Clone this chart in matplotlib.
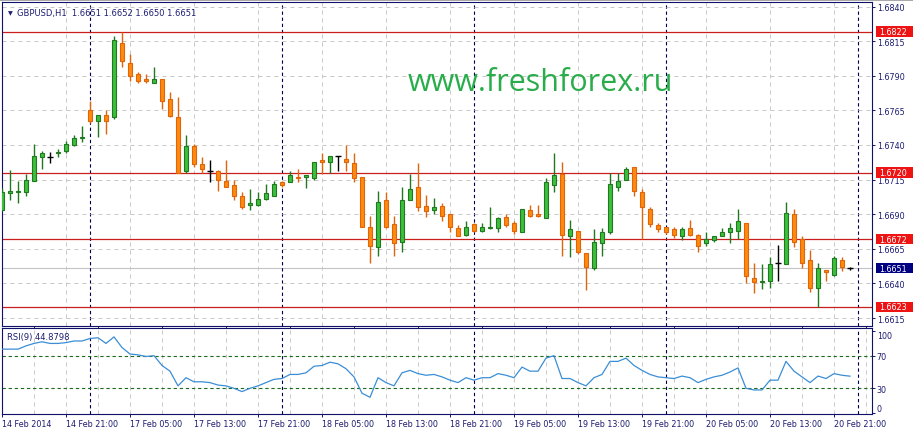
import matplotlib
matplotlib.use("Agg")
import matplotlib.pyplot as plt
import matplotlib.transforms as mtransforms
from matplotlib.patches import Rectangle
import numpy as np

W, H = 913, 435

# GBPUSD H1, 14 Feb 2014 13:00 .. 20 Feb 2014 23:00
opens = [1.6693, 1.6705, 1.6706, 1.6706, 1.6714, 1.6731, 1.6731, 1.6734, 1.6736, 1.6740,
         1.6745, 1.6765, 1.6757, 1.6762, 1.6760, 1.6814, 1.6799, 1.6791, 1.6788, 1.6785,
         1.6788, 1.6773, 1.6760, 1.6721, 1.6739, 1.6726, 1.6721, 1.6721, 1.6714, 1.6711,
         1.6703, 1.6697, 1.6697, 1.6701, 1.6703, 1.6713, 1.6713, 1.6717, 1.6717, 1.6716,
         1.6729, 1.6728, 1.6732, 1.6730, 1.6727, 1.6717, 1.6681, 1.6666, 1.6700, 1.6683,
         1.6670, 1.6700, 1.6710, 1.6696, 1.6693, 1.6696, 1.6690, 1.6680, 1.6675, 1.6683,
         1.6678, 1.6680, 1.6680, 1.6688, 1.6684, 1.6677, 1.6693, 1.6690, 1.6687, 1.6711,
         1.6719, 1.6674, 1.6678, 1.6662, 1.6651, 1.6669, 1.6677, 1.6710, 1.6715, 1.6724,
         1.6706, 1.6694, 1.6682, 1.6681, 1.6679, 1.6674, 1.6680, 1.6675, 1.6669, 1.6671,
         1.6674, 1.6677, 1.6678, 1.6684, 1.6644, 1.6641, 1.6642, 1.6655, 1.6654, 1.6690,
         1.6672, 1.6657, 1.6637, 1.6650, 1.6646, 1.6657, 1.6651]
highs = [1.6709, 1.6722, 1.6714, 1.6719, 1.6741, 1.6736, 1.6735, 1.6737, 1.6743, 1.6747,
         1.6754, 1.6772, 1.6762, 1.6765, 1.6819, 1.6822, 1.6806, 1.6793, 1.6791, 1.6796,
         1.6788, 1.6778, 1.6775, 1.6747, 1.6741, 1.6731, 1.6729, 1.6722, 1.6729, 1.6715,
         1.6706, 1.6708, 1.6706, 1.6712, 1.6714, 1.6714, 1.6721, 1.6723, 1.6718, 1.6728,
         1.6734, 1.6732, 1.6732, 1.6740, 1.6734, 1.6717, 1.6689, 1.6707, 1.6706, 1.6689,
         1.6710, 1.6719, 1.6727, 1.6704, 1.6702, 1.6698, 1.6690, 1.6682, 1.6685, 1.6684,
         1.6684, 1.6695, 1.6688, 1.6690, 1.6685, 1.6694, 1.6697, 1.6697, 1.6716, 1.6734,
         1.6728, 1.6686, 1.6678, 1.6662, 1.6679, 1.6680, 1.6720, 1.6720, 1.6724, 1.6724,
         1.6708, 1.6695, 1.6684, 1.6681, 1.6681, 1.6681, 1.6686, 1.6676, 1.6677, 1.6674,
         1.6680, 1.6684, 1.6694, 1.6684, 1.6655, 1.6654, 1.6659, 1.6668, 1.6699, 1.6694,
         1.6674, 1.6664, 1.6655, 1.6650, 1.6660, 1.6659, 1.6652]
lows = [1.6692, 1.6700, 1.6698, 1.6703, 1.6714, 1.6723, 1.6727, 1.6731, 1.6734, 1.6739,
        1.6742, 1.6756, 1.6746, 1.6748, 1.6759, 1.6796, 1.6786, 1.6785, 1.6785, 1.6785,
        1.6766, 1.6760, 1.6720, 1.6720, 1.6724, 1.6720, 1.6713, 1.6707, 1.6710, 1.6700,
        1.6694, 1.6693, 1.6696, 1.6700, 1.6703, 1.6710, 1.6713, 1.6713, 1.6709, 1.6715,
        1.6719, 1.6720, 1.6721, 1.6721, 1.6713, 1.6681, 1.6655, 1.6660, 1.6680, 1.6660,
        1.6663, 1.6700, 1.6692, 1.6688, 1.6690, 1.6685, 1.6677, 1.6674, 1.6674, 1.6677,
        1.6677, 1.6679, 1.6677, 1.6681, 1.6676, 1.6677, 1.6688, 1.6688, 1.6687, 1.6706,
        1.6660, 1.6659, 1.6661, 1.6635, 1.6650, 1.6660, 1.6676, 1.6707, 1.6715, 1.6703,
        1.6672, 1.6681, 1.6677, 1.6676, 1.6673, 1.6671, 1.6674, 1.6663, 1.6667, 1.6670,
        1.6674, 1.6669, 1.6672, 1.6640, 1.6633, 1.6636, 1.6637, 1.6642, 1.6654, 1.6666,
        1.6651, 1.6634, 1.6623, 1.6642, 1.6645, 1.6649, 1.6650]
closes = [1.6706, 1.6707, 1.6707, 1.6715, 1.6732, 1.6734, 1.6731, 1.6735, 1.6741, 1.6745,
          1.6746, 1.6757, 1.6762, 1.6757, 1.6816, 1.6801, 1.6790, 1.6786, 1.6786, 1.6788,
          1.6772, 1.6761, 1.6720, 1.6739, 1.6726, 1.6723, 1.6721, 1.6715, 1.6710, 1.6703,
          1.6695, 1.6698, 1.6701, 1.6705, 1.6712, 1.6711, 1.6718, 1.6716, 1.6718, 1.6728,
          1.6728, 1.6732, 1.6732, 1.6728, 1.6716, 1.6681, 1.6667, 1.6699, 1.6681, 1.6669,
          1.6700, 1.6708, 1.6695, 1.6692, 1.6695, 1.6689, 1.6681, 1.6674, 1.6681, 1.6678,
          1.6681, 1.6681, 1.6687, 1.6682, 1.6678, 1.6694, 1.6689, 1.6689, 1.6713, 1.6718,
          1.6675, 1.6679, 1.6663, 1.6652, 1.6670, 1.6677, 1.6712, 1.6714, 1.6723, 1.6707,
          1.6695, 1.6683, 1.6679, 1.6677, 1.6675, 1.6679, 1.6675, 1.6667, 1.6672, 1.6674,
          1.6677, 1.6680, 1.6685, 1.6645, 1.6641, 1.6642, 1.6654, 1.6655, 1.6691, 1.6670,
          1.6655, 1.6637, 1.6651, 1.6648, 1.6658, 1.6652, 1.6651]
rsi = [78, 78, 78, 82, 85, 87, 85, 85, 86, 88,
       88, 91, 92, 85, 93, 80, 72, 71, 69, 70,
       58, 51, 33, 43, 38, 38, 37, 34, 33, 30,
       26, 30, 33, 37, 41, 42, 47, 47, 49, 57,
       58, 62, 60, 54, 44, 24, 19, 43, 37, 33,
       49, 52, 48, 46, 47, 44, 40, 37, 43, 40,
       43, 43, 48, 46, 43, 56, 51, 51, 67, 70,
       42, 42, 37, 33, 43, 47, 63, 63, 67, 58,
       52, 47, 44, 43, 42, 45, 43, 37, 41, 44,
       46, 50, 55, 30, 28, 28, 40, 40, 63, 51,
       44, 37, 45, 42, 48, 46, 44.88]

x_labels = ["14 Feb 2014", "14 Feb 21:00", "17 Feb 05:00", "17 Feb 13:00", "17 Feb 21:00",
            "18 Feb 05:00", "18 Feb 13:00", "18 Feb 21:00", "19 Feb 05:00", "19 Feb 13:00",
            "19 Feb 21:00", "20 Feb 05:00", "20 Feb 13:00", "20 Feb 21:00"]
price_ticks = [1.6840, 1.6815, 1.6790, 1.6765, 1.6740, 1.6715, 1.6690, 1.6665, 1.6640, 1.6615]
red_levels = [1.6822, 1.6720, 1.6672, 1.6623]
bid = 1.6651
day_starts = [11, 35, 59, 83, 107]   # bar index of 00:00
rsi_levels = [70, 30]

NAVY = "#10106a"
TXT = "#1c1c72"
GRID = "#c8c8c8"
UP_FILL, UP_EDGE = "#3cbf3c", "#1f7a1f"
DN_FILL, DN_EDGE = "#ff8a0d", "#e0640a"
FS = 5.8

plt.rcParams["font.family"] = ["DejaVu Sans"]


def px_box(l, t, r, b):
    return [l / W, 1 - b / H, (r - l) / W, (b - t) / H]


fig = plt.figure(figsize=(W / 100, H / 100), dpi=100)
fig.patch.set_facecolor("white")
fig.add_artist(Rectangle((0, 1 - 1.5 / H), 1, 1.5 / H, transform=fig.transFigure,
                         color="#a8a8a8", lw=0))

ax = fig.add_axes(px_box(2, 3, 872, 327))
ax_rsi = fig.add_axes(px_box(2, 329, 872, 415), sharex=ax)

o, h, l, c = map(np.array, (opens, highs, lows, closes))
idx = np.arange(len(o))
up = c > o
dn = c < o
dj = c == o

wick_col = np.where(up, UP_EDGE, np.where(dn, DN_EDGE, "black"))
ax.vlines(idx, l, h, colors=wick_col, lw=1.0, zorder=3)
ax.bar(idx[up], (c - o)[up], bottom=o[up], width=0.6, color=UP_FILL,
       edgecolor=UP_EDGE, linewidth=0.8, zorder=4)
ax.bar(idx[dn], (o - c)[dn], bottom=c[dn], width=0.6, color=DN_FILL,
       edgecolor=DN_EDGE, linewidth=0.8, zorder=4)
ax.hlines(o[dj], idx[dj] - 0.35, idx[dj] + 0.35, colors="black", lw=1.0, zorder=4)

for lv in red_levels:
    ax.axhline(lv, color="#c81e1e", lw=0.9, zorder=2)
ax.axhline(bid, color="#c4c4c4", lw=0.8, zorder=1)

ymin, ymax = 1.660922, 1.684332
ax.set_ylim(ymin, ymax)
ax.set_xlim(0, 108.75)
ax.set_yticks(price_ticks)
ax.set_yticklabels([f"{p:.4f}" for p in price_ticks])
ax.set_xticks(np.arange(0, 109, 4))
ax.grid(True, color=GRID, lw=0.72, ls=(0, (4, 4)), zorder=0)
ax.tick_params(axis="x", length=0, labelbottom=False)
ax.tick_params(axis="y", left=False, labelleft=False, right=True, labelright=True,
               length=2.2, width=0.72, pad=1.2, labelsize=FS, colors=TXT)

# price labels on the right scale
tr = mtransforms.blended_transform_factory(fig.transFigure, ax.transData)
box_h = (ymax - ymin) / 324 * 10.5
for lv, col in [(x, "#ee1414") for x in red_levels] + [(bid, "#000080")]:
    ax.add_patch(Rectangle((875.5 / W, lv - box_h / 2), 37.5 / W, box_h, transform=tr,
                           facecolor=col, edgecolor="none", clip_on=False, zorder=10))
    ax.text(879 / W, lv, f"{lv:.4f}", transform=tr, color="white", fontsize=FS,
            va="center", ha="left", zorder=11, clip_on=False)

ax.text(8 / 870, 1 - 11 / 324, "\u25bc", transform=ax.transAxes, fontsize=4.5,
        color=TXT, va="center", ha="center")
ax.text(15 / 870, 1 - 11 / 324, "GBPUSD,H1  1.6651 1.6652 1.6650 1.6651",
        transform=ax.transAxes, fontsize=6, color=TXT, va="center", ha="left")
ax.text(406 / 870, 1 - 88 / 324, "www.freshforex.ru", transform=ax.transAxes,
        fontsize=22, family="Open Sans", color="#29ad4a", va="baseline", ha="left",
        zorder=6)

# RSI window
ax_rsi.plot(idx, rsi, color="#3a8ed6", lw=0.9, zorder=3)
for lv in rsi_levels:
    ax_rsi.axhline(lv, color="#1d6b1d", lw=0.8, ls=(0, (3, 2.5)), zorder=2)
ax_rsi.set_ylim(-1.47, 103.9)
ax_rsi.set_yticks([100, 70, 30, 0])
ax_rsi.set_yticklabels(["100", "70", "30", "0"])
ax_rsi.set_xticks(np.arange(0, 105, 8))
ax_rsi.set_xticks(np.arange(0, 109, 4), minor=True)
ax_rsi.set_xticklabels(x_labels, ha="left")
ax_rsi.grid(True, which="both", axis="x", color=GRID, lw=0.72, ls=(0, (4, 4)), zorder=0)
ax_rsi.tick_params(axis="x", which="major", length=2.2, width=0.72, pad=1.2,
                   labelsize=FS, colors=TXT)
ax_rsi.tick_params(axis="x", which="minor", length=0)
ax_rsi.tick_params(axis="y", left=False, labelleft=False, right=True, labelright=True,
                   length=2.2, width=0.72, pad=1.2, labelsize=FS, colors=TXT)
for t in ax_rsi.get_yticklabels():
    if t.get_text() == "100":
        t.set_va("top")
    elif t.get_text() == "0":
        t.set_va("bottom")
ax_rsi.text(5 / 870, 1 - 9 / 86, "RSI(9) 44.8798", transform=ax_rsi.transAxes,
            fontsize=6, color=TXT, va="center", ha="left")

for a in (ax, ax_rsi):
    for d in day_starts:
        a.axvline(d, color="#000050", lw=0.8, ls=(0, (3, 2.5)), zorder=1)
    for s in a.spines.values():
        s.set_color(NAVY)
        s.set_linewidth(0.8)
    a.set_facecolor("white")

fig.savefig("out.png", dpi=100)
